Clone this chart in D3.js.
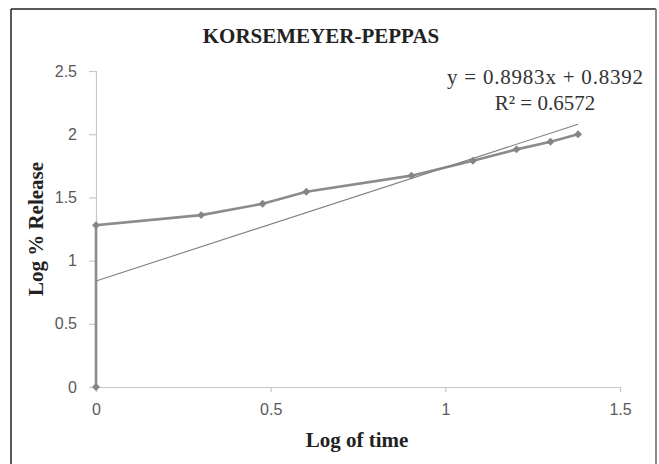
<!DOCTYPE html>
<html>
    <head>
        <meta charset="utf-8">
        <title>KORSEMEYER-PEPPAS</title>
        <script src="https://d3js.org/d3.v7.min.js" charset="utf-8"></script>
        <style>
            body { margin: 0; background: #fff; }
        </style>
    </head>
    <body>
        <script>

            // data
            var logTime    = [0, 0, 0.301, 0.477, 0.602, 0.903, 1.079, 1.204, 1.301, 1.380];
            var logRelease = [0, 1.28, 1.36, 1.45, 1.545, 1.672, 1.79, 1.88, 1.94, 2.0];
            var xTicks = [0, 0.5, 1, 1.5];
            var yTicks = [0, 0.5, 1, 1.5, 2, 2.5];
            var slope = 0.8983;
            var intercept = 0.8392;
            var rSquared = 0.6572;

            var dataset = logTime.map(function(x, i) {
                return {x: x, y: logRelease[i]};
            });

            var width = 659;
            var height = 464;

            var xScale = d3.scaleLinear()
                            .domain([0, 1.5])
                            .range([96, 620]);

            var yScale = d3.scaleLinear()
                            .domain([0, 2.5])
                            .range([387, 71]);

            var svg = d3.select("body")
                        .append("svg")
                         .attr("width", width)
                         .attr("height", height);

            // outer frame
            svg.append("line")
                .attr("x1", 11).attr("y1", 9).attr("x2", 11).attr("y2", height)
                .style("stroke", "#222").style("stroke-width", 1.5);
            svg.append("line")
                .attr("x1", 11).attr("y1", 9).attr("x2", 656).attr("y2", 9)
                .style("stroke", "#222").style("stroke-width", 1.5);
            svg.append("line")
                .attr("x1", 656).attr("y1", 9).attr("x2", 656).attr("y2", height)
                .style("stroke", "#8a8a8a").style("stroke-width", 2);

            svg.append("g")
                .attr("class", "x-axis")
                .attr("transform", "translate(0," + yScale(0) + ")")
                .call(d3.axisBottom(xScale).tickValues(xTicks).tickSize(5).tickPadding(12)
                        .tickFormat(function(d) { return d; }));

            svg.append("g")
                .attr("class", "y-axis")
                .attr("transform", "translate(" + xScale(0) + ",0)")
                .call(d3.axisLeft(yScale).tickValues(yTicks).tickSize(7).tickPadding(12)
                        .tickFormat(function(d) { return d; }));

            svg.selectAll(".x-axis path, .y-axis path")
                .style("stroke", "#c8c8c8").style("stroke-width", 1.2);
            svg.selectAll(".x-axis .tick line, .y-axis .tick line")
                .style("stroke", "#c8c8c8").style("stroke-width", 1.2);
            svg.selectAll(".x-axis text, .y-axis text")
                .style("font-family", "'Liberation Sans', Arial, sans-serif")
                .style("font-size", "16px")
                .style("fill", "#595959");

            // trendline from the equation
            var trend = [0, d3.max(logTime)].map(function(x) {
                return {x: x, y: slope * x + intercept};
            });

            var line = d3.line()
                .x(function(d) { return xScale(d.x); })
                .y(function(d) { return yScale(d.y); });

            svg.append("path")
                .datum(dataset)
                .attr("d", line)
                .style("stroke", "#8c8c8c")
                .style("stroke-width", 2.6)
                .style("fill", "none");

            svg.append("path")
                .datum(trend)
                .attr("d", line)
                .style("stroke", "#808080")
                .style("stroke-width", 1.1)
                .style("fill", "none");

            svg.selectAll(".point")
                .data(dataset)
                .enter()
                .append("path")
                .attr("class", "point")
                .attr("transform", function(d) { return "translate(" + xScale(d.x) + "," + yScale(d.y) + ")"; })
                .attr("d", d3.symbol().type(d3.symbolDiamond2).size(40))
                .style("fill", "#858585");

            // texts
            var serif = "'Liberation Serif', 'Times New Roman', serif";

            svg.append("text")
                .attr("x", 321)
                .attr("y", 43)
                .style("text-anchor", "middle")
                .style("font-family", serif)
                .style("font-weight", "bold")
                .style("font-size", "21px")
                .style("fill", "#222")
                .text("KORSEMEYER-PEPPAS");

            svg.append("text")
                .attr("x", 357)
                .attr("y", 447)
                .style("text-anchor", "middle")
                .style("font-family", serif)
                .style("font-weight", "bold")
                .style("font-size", "21px")
                .style("fill", "#222")
                .text("Log of time");

            svg.append("text")
                .attr("transform", "rotate(-90)")
                .attr("x", -229)
                .attr("y", 43)
                .style("text-anchor", "middle")
                .style("font-family", serif)
                .style("font-weight", "bold")
                .style("font-size", "21px")
                .style("fill", "#222")
                .text("Log % Release");

            svg.append("text")
                .attr("x", 545)
                .attr("y", 84)
                .attr("textLength", 196)
                .style("text-anchor", "middle")
                .style("font-family", serif)
                .style("font-size", "21px")
                .style("fill", "#333")
                .text("y = " + slope + "x  + " + intercept);

            svg.append("text")
                .attr("x", 545)
                .attr("y", 110)
                .style("text-anchor", "middle")
                .style("font-family", serif)
                .style("font-size", "21px")
                .style("fill", "#333")
                .text("R² = " + rSquared);
        </script>
    </body>
</html>
